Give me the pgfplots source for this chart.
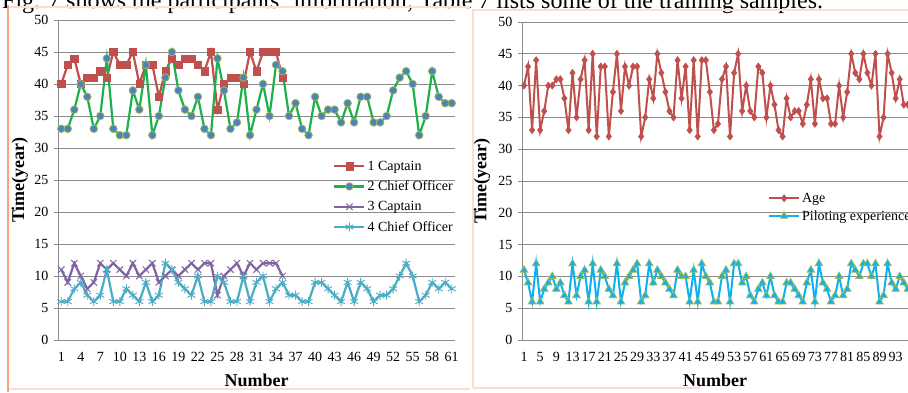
\documentclass[border=0pt]{standalone}
\usepackage{fontspec}
\setmainfont{Liberation Serif}
\usepackage{pgfplots}
\usepackage{pgfplotstable}
\pgfplotsset{compat=1.18}

\definecolor{cRed}{HTML}{C0504D}
\definecolor{cGreen}{HTML}{1DB04B}
\definecolor{cBlueMk}{HTML}{4F81BD}
\definecolor{cOlive}{HTML}{9BBB59}
\definecolor{cPurple}{HTML}{8064A2}
\definecolor{cCyan}{HTML}{4BACC6}
\definecolor{cSky}{HTML}{0FB0EE}
\definecolor{axgray}{HTML}{8C8C8C}
\definecolor{frameOrange}{HTML}{F7A27C}
\definecolor{framePink}{HTML}{FCDDD2}

\newcommand{\tickfont}{\fontsize{14}{16}\selectfont}
\newcommand{\labfont}{\fontsize{18}{20}\selectfont\bfseries}

\pgfplotstableread{
c1 c3
40 11
43 9
44 12
40 10
41 8
41 9
42 12
41 11
45 12
43 11
43 10
45 12
40 10
43 11
43 12
38 9
42 10
44 11
43 10
44 11
44 12
43 11
42 12
45 12
36 7
40 10
41 11
41 12
40 10
45 12
42 11
45 12
45 12
45 12
41 10
}\leftcap

\pgfplotstableread{
c2 c4
33 6
33 6
36 8
40 9
38 7
33 6
35 7
44 11
33 6
32 6
32 8
39 7
36 6
43 9
32 6
35 7
41 12
45 11
39 9
36 8
35 7
38 10
33 6
32 6
44 10
39 9
33 6
34 6
41 10
32 6
36 9
40 10
35 6
43 8
42 9
35 7
37 7
33 6
32 6
38 9
35 9
36 8
36 7
34 6
37 9
34 6
38 9
38 8
34 6
34 7
35 7
39 8
41 10
42 12
40 10
32 6
35 7
42 9
38 8
37 9
37 8
}\leftchief

\pgfplotstableread{
age pil
40 11
43 9
33 6
44 12
33 6
36 8
40 9
40 10
41 8
41 9
38 7
33 6
42 12
35 7
41 10
44 11
33 6
45 12
32 6
43 11
43 10
32 8
39 7
45 12
36 6
43 9
40 10
43 11
43 12
32 6
35 7
41 12
38 9
45 11
42 10
39 9
36 8
35 7
44 11
38 10
43 10
33 6
44 11
32 6
44 12
44 10
39 9
33 6
34 6
41 10
43 11
32 6
42 12
45 12
36 9
40 10
36 7
35 6
43 8
42 9
35 7
40 10
37 7
33 6
32 6
38 9
35 9
36 8
36 7
34 6
37 9
41 11
34 6
41 12
38 9
38 8
34 6
34 7
40 10
35 7
39 8
45 12
42 11
41 10
45 12
42 12
40 10
45 12
32 6
35 7
45 12
42 9
38 8
41 10
37 9
37 8
}\rightdata

\pgfplotsset{
  panel/.style={
    scale only axis,
    anchor=south west,
    ymin=0, ymax=50, ytick={0,5,...,50},
    axis x line*=bottom, axis y line*=left,
    axis line style={draw=axgray, line width=0.9pt},
    ymajorgrids, grid style={draw=axgray, line width=0.9pt},
    tick style={draw=axgray, line width=0.9pt},
    xtick style={draw=none},
    tick align=outside, major tick length=4pt,
    ticklabel style={font=\tickfont, text=black},
    /pgf/number format/assume math mode=true,
    xticklabel style={yshift=-5pt},
    yticklabel style={xshift=-2pt},
    xlabel={Number}, ylabel={Time(year)},
    legend cell align=left,
    legend style={draw=none, fill=none, inner sep=0pt, font=\tickfont,
      nodes={inner ysep=4.6pt, inner xsep=2pt}, anchor=north west},
    legend image code/.code={\draw[mark repeat=2,mark phase=2,##1] plot coordinates {(0pt,0pt) (15pt,0pt) (30pt,0pt)};},
  }
}

\begin{document}
\begin{tikzpicture}[x=1pt,y=1pt]
\useasboundingbox (0,0) rectangle (908,392);
\clip (0,0) rectangle (908,392);
\fill[white] (0,0) rectangle (908,392);
% top running text (cut off in the reference)
\node[anchor=base west, inner sep=0pt, font=\fontsize{24}{26}\selectfont] at (2,383.5)
  {Fig. 7 shows the participants' information; Table 7 lists some of the training samples.};
% panel frames
\draw[framePink, line width=1.6pt] (8,385) -- (470,385);
\draw[framePink, line width=1.6pt] (8,3) -- (470,3);
\draw[frameOrange, line width=1.5pt] (8,0) -- (8,387);
\draw[framePink, line width=2.2pt] (473,4) -- (473,382) -- (908,382);
\draw[framePink, line width=2.2pt] (473,4) -- (700,4);

\begin{axis}[panel,
  at={(58pt,52pt)}, width=397pt, height=320pt,
  xmin=0.5, xmax=61.5, xtick={1,4,...,61},
  xlabel style={font=\labfont, at={(axis description cs:0.5,-0.125)}, anchor=center},
  ylabel style={font=\labfont, at={(axis description cs:-0.096,0.5)}, anchor=center},
  legend style={at={(axis description cs:0.693,0.575)}},
]
\addplot[cRed, line width=2.2pt, mark=square*, mark size=3.6pt, mark options={fill=cRed, draw=cRed, line width=0.5pt}]
  table[x expr=\coordindex+1, y=c1] {\leftcap};
\addlegendentry{1 Captain}
\addplot[cGreen, line width=2.2pt, mark=*, mark size=3.8pt, mark options={fill=cBlueMk, draw=cOlive, line width=0.8pt}]
  table[x expr=\coordindex+1, y=c2] {\leftchief};
\addlegendentry{2 Chief Officer}
\addplot[cPurple, line width=2.2pt, mark=x, mark size=4.5pt, mark options={line width=1pt}]
  table[x expr=\coordindex+1, y=c3] {\leftcap};
\addlegendentry{3 Captain}
\addplot[cCyan, line width=2.2pt, mark=asterisk, mark size=4.5pt, mark options={line width=0.9pt}]
  table[x expr=\coordindex+1, y=c4] {\leftchief};
\addlegendentry{4 Chief Officer}
\end{axis}

\begin{axis}[panel,
  at={(522pt,52pt)}, width=386pt, height=318pt,
  xmin=0.5, xmax=96.05, xtick={1,5,...,93},
  xlabel style={font=\labfont, at={(axis description cs:0.5,-0.1258)}, anchor=center},
  ylabel style={font=\labfont, at={(axis description cs:-0.1036,0.5)}, anchor=center},
  legend style={at={(axis description cs:0.637,0.474)}, nodes={inner ysep=3.4pt}},
]
\addplot[cRed, line width=2pt, mark=diamond*, mark size=3.6pt, mark options={fill=cRed, draw=cRed, line width=0.5pt}]
  table[x expr=\coordindex+1, y=age] {\rightdata};
\addlegendentry{Age}
\addplot[cSky, line width=2pt, mark=triangle*, mark size=4.3pt, mark options={fill=cSky, draw=cOlive, line width=0.8pt}]
  table[x expr=\coordindex+1, y=pil] {\rightdata};
\addlegendentry{Piloting experience}
\end{axis}
\end{tikzpicture}
\end{document}
